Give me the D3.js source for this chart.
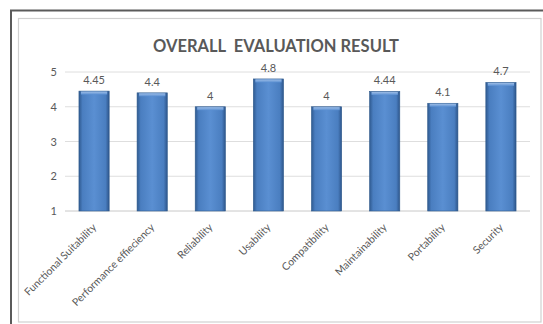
<!DOCTYPE html>
<html lang="en">
<head>
    <meta charset="UTF-8">
    <title>Overall Evaluation Result</title>
    <script src="https://d3js.org/d3.v7.min.js"></script>
    <style>
        body { margin: 0; background: #ffffff; }
        svg { display: block; font-family: Lato, "Open Sans", sans-serif; }
    </style>
</head>
<body>
    <svg id="chart" width="543" height="324"></svg>
    <script>
        // chart data
        const categories = ["Functional Suitability", "Performance effieciency", "Reliability", "Usability",
                            "Compatibility", "Maintainability", "Portability", "Security"];
        const scores = [4.45, 4.4, 4, 4.8, 4, 4.44, 4.1, 4.7];
        const scoreLabels = ["4.45", "4.4", "4", "4.8", "4", "4.44", "4.1", "4.7"];
        const yTicks = [1, 2, 3, 4, 5];

        const svg = d3.select("#chart");
        const textColor = "#595959";
        const font = "Lato, 'Open Sans', sans-serif";

        // frame borders
        svg.append("rect")
            .attr("x", 11).attr("y", 10.5).attr("width", 545).attr("height", 330)
            .attr("fill", "none").attr("stroke", "#5a5a5a").attr("stroke-width", 2);
        svg.append("rect")
            .attr("x", 18.5).attr("y", 18.5).attr("width", 522.5).attr("height", 303.5)
            .attr("fill", "#fff").attr("stroke", "#d0d0d0").attr("stroke-width", 1.2);

        svg.append("text")
            .attr("x", 276).attr("y", 52)
            .attr("text-anchor", "middle")
            .attr("font-size", 16.5).attr("font-weight", "bold")
            .attr("fill", textColor)
            .attr("xml:space", "preserve")
            .style("white-space", "pre")
            .text("OVERALL  EVALUATION RESULT");

        const x = d3.scaleBand().domain(categories).range([65, 530]).paddingInner(0.48).paddingOuter(0.24);
        const y = d3.scaleLinear().domain([1, 5]).range([211, 72]);

        // gradient for bars
        const defs = svg.append("defs");
        const grad = defs.append("linearGradient").attr("id", "barGrad")
            .attr("x1", 0).attr("x2", 1).attr("y1", 0).attr("y2", 0);
        grad.append("stop").attr("offset", "0%").attr("stop-color", "#2f5a90");
        grad.append("stop").attr("offset", "12%").attr("stop-color", "#4a7ec0");
        grad.append("stop").attr("offset", "50%").attr("stop-color", "#5a8fd2");
        grad.append("stop").attr("offset", "88%").attr("stop-color", "#4a7ec0");
        grad.append("stop").attr("offset", "100%").attr("stop-color", "#2d558a");
        const topGrad = defs.append("linearGradient").attr("id", "topGrad")
            .attr("x1", 0).attr("x2", 0).attr("y1", 0).attr("y2", 1);
        topGrad.append("stop").attr("offset", "0%").attr("stop-color", "#9dbde6");
        topGrad.append("stop").attr("offset", "100%").attr("stop-color", "#5a8fd2");

        // gridlines
        svg.append("g")
            .selectAll("line")
            .data(yTicks)
            .join("line")
            .attr("x1", 65).attr("x2", 530)
            .attr("y1", d => y(d)).attr("y2", d => y(d))
            .attr("stroke", d => d === 1 ? "#c8c8c8" : "#dedede")
            .attr("stroke-width", 1);

        // y axis labels
        const yAxis = svg.append("g")
            .attr("transform", "translate(57,0)")
            .call(d3.axisLeft(y).tickValues(yTicks).tickSize(0).tickPadding(0).tickFormat(d3.format("d")));
        yAxis.select(".domain").remove();
        yAxis.selectAll("text").attr("fill", textColor).attr("font-size", 11)
            .attr("font-family", font);

        // bars
        const bars = svg.append("g").selectAll("g")
            .data(categories)
            .join("g");
        bars.append("rect")
            .attr("x", d => x(d))
            .attr("y", (d, i) => y(scores[i]))
            .attr("width", x.bandwidth())
            .attr("height", (d, i) => y(1) - y(scores[i]))
            .attr("fill", "url(#barGrad)")
            .attr("stroke", "#2f5a8c").attr("stroke-width", 0.6);
        bars.append("rect")
            .attr("x", d => x(d) + 2)
            .attr("y", (d, i) => y(scores[i]) + 0.5)
            .attr("width", x.bandwidth() - 4)
            .attr("height", 3)
            .attr("fill", "url(#topGrad)");

        // value labels
        svg.append("g").selectAll("text")
            .data(categories)
            .join("text")
            .attr("x", d => x(d) + x.bandwidth() / 2)
            .attr("y", (d, i) => y(scores[i]) - 7)
            .attr("text-anchor", "middle")
            .attr("font-size", 11)
            .attr("fill", textColor)
            .text((d, i) => scoreLabels[i]);

        // x axis labels
        const xAxis = svg.append("g")
            .attr("transform", "translate(0,211)")
            .call(d3.axisBottom(x).tickSize(0).tickPadding(0));
        xAxis.select(".domain").remove();
        xAxis.selectAll("text")
            .attr("fill", textColor).attr("font-size", 10.5)
            .attr("font-family", font)
            .attr("text-anchor", "end")
            .attr("dy", 0)
            .attr("transform", "translate(3,17) rotate(-45)");
    </script>
</body>
</html>
